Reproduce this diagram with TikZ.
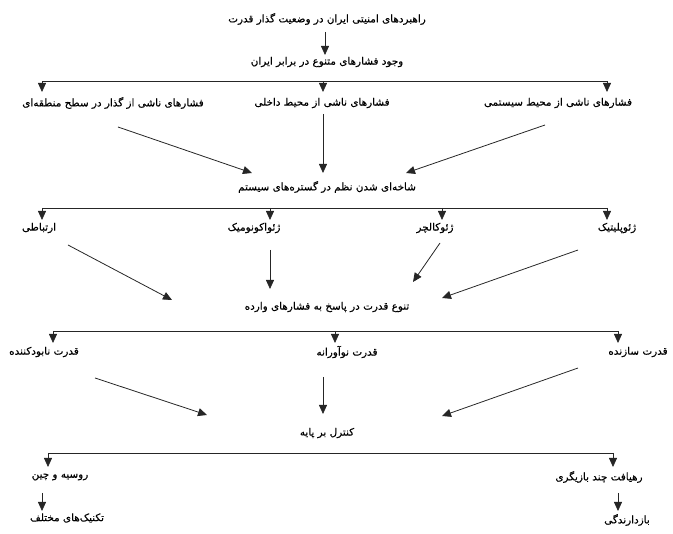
\documentclass[tikz,border=0pt]{standalone}
\usepackage{fontspec}
\usetikzlibrary{arrows.meta}
\TeXXeTstate=1
\newfontfamily\arabicfont[Script=Arabic,BoldFont={DejaVu Sans},BoldFeatures={FakeBold=0.4}]{DejaVu Sans}
\newcommand\rtltext[1]{\beginR #1\endR}
\begin{document}
\begin{tikzpicture}[x=1pt,y=-1pt,
  lbl/.style={font=\arabicfont\bfseries\fontsize{10.4}{12}\selectfont, inner sep=0pt, text=black},
  arr/.style={-{Triangle[width=8pt,length=9pt]}, line width=0.8pt, draw=black!85},
  bus/.style={line width=0.8pt, draw=black!85}]
\useasboundingbox (0,0) rectangle (673,534);
% texts
\node[lbl] (t1) at (327,19) {\rtltext{راهبردهای امنیتی ایران در وضعیت گذار قدرت}};
\node[lbl] (t2) at (327,62) {\rtltext{وجود فشارهای متنوع در برابر ایران}};
\node[lbl] (p1) at (113,103) {\rtltext{فشارهای ناشی از گذار در سطح منطقه‌ای}};
\node[lbl] (p2) at (322,103) {\rtltext{فشارهای ناشی از محیط داخلی}};
\node[lbl] (p3) at (558,103) {\rtltext{فشارهای ناشی از محیط سیستمی}};
\node[lbl] (sh) at (327,187) {\rtltext{شاخه‌ای شدن نظم در گستره‌های سیستم}};
\node[lbl] (g1) at (39,228) {\rtltext{ارتباطی}};
\node[lbl] (g2) at (254,228) {\rtltext{ژئواکونومیک}};
\node[lbl] (g3) at (435,228) {\rtltext{ژئوکالچر}};
\node[lbl] (g4) at (617,228) {\rtltext{ژئوپلیتیک}};
\node[lbl] (tn) at (327,307) {\rtltext{تنوع قدرت در پاسخ به فشارهای وارده}};
\node[lbl] (q1) at (44,352) {\rtltext{قدرت نابودکننده}};
\node[lbl] (q2) at (347,352) {\rtltext{قدرت نوآورانه}};
\node[lbl] (q3) at (638,352) {\rtltext{قدرت سازنده}};
\node[lbl] (k) at (327,433) {\rtltext{کنترل بر پایه}};
\node[lbl] (r1) at (60,477) {\rtltext{روسیه و چین}};
\node[lbl] (r2) at (599,477) {\rtltext{رهیافت چند بازیگری}};
\node[lbl] (e1) at (67,518) {\rtltext{تکنیک‌های مختلف}};
\node[lbl] (e2) at (627,520) {\rtltext{بازدارندگی}};
% coordinates
\coordinate (a0s) at (325,32); \coordinate (a0e) at (325,55);
\coordinate (b1L) at (42,81); \coordinate (b1M) at (323,81); \coordinate (b1R) at (607,81);
\coordinate (b1Lt) at (42,92); \coordinate (b1Mt) at (323,92); \coordinate (b1Rt) at (607,92);
\coordinate (d1s) at (118,127); \coordinate (d1e) at (252,173);
\coordinate (d2s) at (323,114); \coordinate (d2e) at (323,173);
\coordinate (d3s) at (545,125); \coordinate (d3e) at (406,173);
\coordinate (b2L) at (42,208); \coordinate (b2A) at (270,208); \coordinate (b2B) at (442,208); \coordinate (b2R) at (607,208);
\coordinate (b2Lt) at (42,220); \coordinate (b2At) at (270,220); \coordinate (b2Bt) at (442,220); \coordinate (b2Rt) at (607,220);
\coordinate (f1s) at (68,245); \coordinate (f1e) at (172,300);
\coordinate (f2s) at (270,250); \coordinate (f2e) at (270,289);
\coordinate (f3s) at (440,243); \coordinate (f3e) at (413,282);
\coordinate (f4s) at (578,250); \coordinate (f4e) at (442,298);
\coordinate (b3L) at (53,331); \coordinate (b3M) at (335,331); \coordinate (b3R) at (618,331);
\coordinate (b3Lt) at (53,343); \coordinate (b3Mt) at (335,343); \coordinate (b3Rt) at (618,343);
\coordinate (h1s) at (95,378); \coordinate (h1e) at (207,415);
\coordinate (h2s) at (323,377); \coordinate (h2e) at (323,414);
\coordinate (h3s) at (578,368); \coordinate (h3e) at (442,416);
\coordinate (b4L) at (48,453); \coordinate (b4R) at (613,453);
\coordinate (b4Lt) at (48,467); \coordinate (b4Rt) at (613,467);
\coordinate (v1s) at (42,493); \coordinate (v1e) at (42,511);
\coordinate (v2s) at (618,493); \coordinate (v2e) at (618,511);
% connectors
\draw[arr] (a0s) -- (a0e);
\draw[bus] (b1L) -- (b1R);
\draw[arr] (b1L) -- (b1Lt);
\draw[arr] (b1M) -- (b1Mt);
\draw[arr] (b1R) -- (b1Rt);
\draw[arr] (d1s) -- (d1e);
\draw[arr] (d2s) -- (d2e);
\draw[arr] (d3s) -- (d3e);
\draw[bus] (b2L) -- (b2R);
\draw[arr] (b2L) -- (b2Lt);
\draw[arr] (b2A) -- (b2At);
\draw[arr] (b2B) -- (b2Bt);
\draw[arr] (b2R) -- (b2Rt);
\draw[arr] (f1s) -- (f1e);
\draw[arr] (f2s) -- (f2e);
\draw[arr] (f3s) -- (f3e);
\draw[arr] (f4s) -- (f4e);
\draw[bus] (b3L) -- (b3R);
\draw[arr] (b3L) -- (b3Lt);
\draw[arr] (b3M) -- (b3Mt);
\draw[arr] (b3R) -- (b3Rt);
\draw[arr] (h1s) -- (h1e);
\draw[arr] (h2s) -- (h2e);
\draw[arr] (h3s) -- (h3e);
\draw[bus] (b4L) -- (b4R);
\draw[arr] (b4L) -- (b4Lt);
\draw[arr] (b4R) -- (b4Rt);
\draw[arr] (v1s) -- (v1e);
\draw[arr] (v2s) -- (v2e);
\end{tikzpicture}
\end{document}
